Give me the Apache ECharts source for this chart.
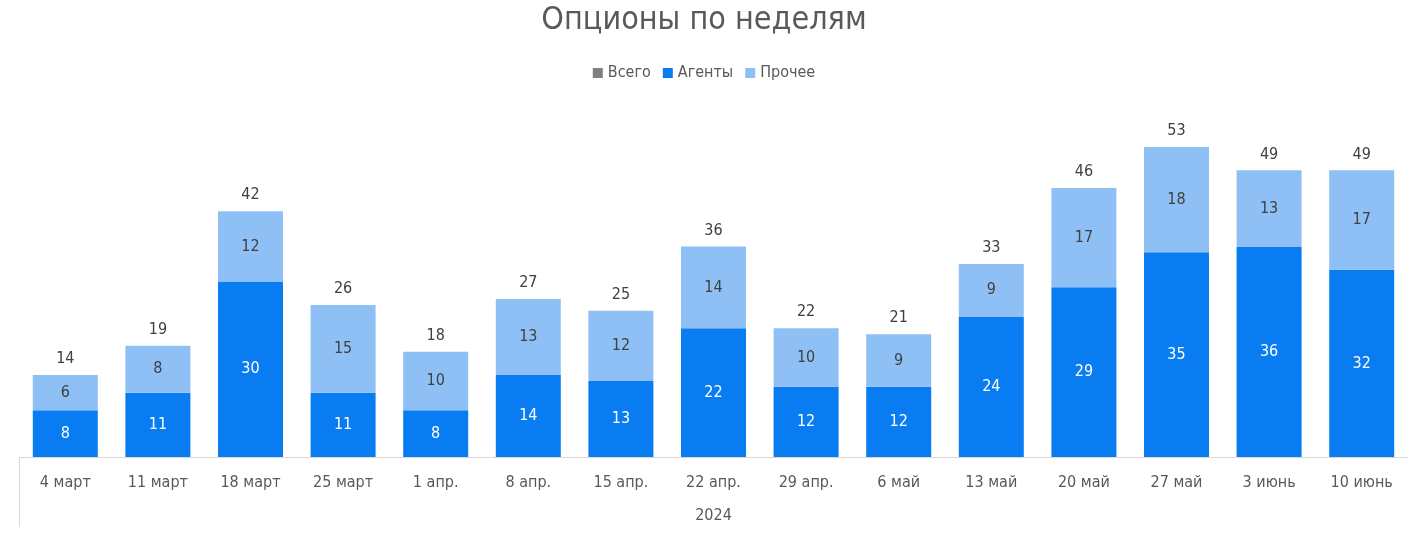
<!DOCTYPE html>
<html><head><meta charset="utf-8">
<script src="https://cdn.jsdelivr.net/npm/echarts@6/dist/echarts.min.js"></script>
<style>html,body{margin:0;padding:0;background:#fff}#c{width:1408px;height:534px}</style>
</head><body><div id="c"></div>
<script>
const categories = ['4 март','11 март','18 март','25 март','1 апр.','8 апр.','15 апр.','22 апр.','29 апр.','6 май','13 май','20 май','27 май','3 июнь','10 июнь'];
const agents = [8,11,30,11,8,14,13,22,12,12,24,29,35,36,32];
const other = [6,8,12,15,10,13,12,14,10,9,9,17,18,13,17];
const totals = [14,19,42,26,18,27,25,36,22,21,33,46,53,49,49];
const yearLabels = ['2024'];

const FONT = '"Liberation Sans Narrow","DejaVu Sans Condensed","Roboto",sans-serif';
const chart = echarts.init(document.getElementById('c'));
chart.setOption({
  animation: false,
  title: {text: 'Опционы по неделям', left: 'center', top: 0,
    textStyle: {fontFamily: FONT, fontSize: 32, fontWeight: 'normal', color: '#595959'}},
  legend: {top: 60, left: 'center', itemWidth: 10, itemHeight: 10, itemGap: 12, icon: 'rect',
    textStyle: {fontFamily: FONT, fontSize: 16, color: '#595959'},
    data: [{name: 'Всего', itemStyle: {color: '#7f7f7f'}}, 'Агенты', 'Прочее']},
  grid: {left: 19, right: 0, top: 106, bottom: 77},
  xAxis: [{
    type: 'category', data: categories,
    axisLine: {lineStyle: {color: '#d9d9d9', width: 1}},
    axisTick: {show: true, length: 70, interval: (i) => i === 0, lineStyle: {color: '#d9d9d9'}},
    axisLabel: {fontFamily: FONT, fontSize: 16, color: '#595959', margin: 18}
  }, {
    type: 'category', data: yearLabels, position: 'bottom', offset: 33,
    axisLine: {show: false}, axisTick: {show: false},
    axisLabel: {fontFamily: FONT, fontSize: 16, color: '#595959', margin: 18}
  }],
  yAxis: {type: 'value', min: 0, max: 60, show: false, splitLine: {show: false}},
  series: [
    {name: 'Всего', type: 'bar', data: totals, barWidth: 65, barGap: '-100%',
      itemStyle: {color: 'rgba(0,0,0,0)'},
      label: {show: true, position: 'top', distance: 8, fontFamily: FONT, fontSize: 16, color: '#404040'}},
    {name: 'Агенты', type: 'bar', stack: 's', data: agents, barWidth: 65,
      itemStyle: {color: '#0a7cf2'},
      label: {show: true, position: 'inside', fontFamily: FONT, fontSize: 16, color: '#ffffff'}},
    {name: 'Прочее', type: 'bar', stack: 's', data: other, barWidth: 65,
      itemStyle: {color: '#8fc0f5'},
      label: {show: true, position: 'inside', fontFamily: FONT, fontSize: 16, color: '#404040'}}
  ]
});
</script></body></html>
